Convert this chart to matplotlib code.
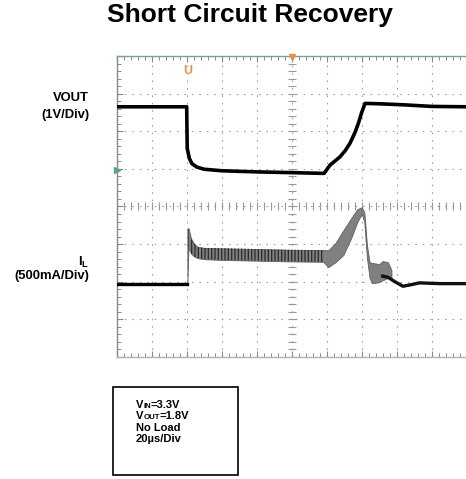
import numpy as np
import matplotlib
matplotlib.use("Agg")
import matplotlib.pyplot as plt
from matplotlib.patches import Rectangle

plt.rcParams["font.family"] = ["Liberation Sans", "DejaVu Sans"]
plt.rcParams["mathtext.fontset"] = "custom"
plt.rcParams["mathtext.rm"] = "Liberation Sans:bold"
plt.rcParams["mathtext.bf"] = "Liberation Sans:bold"
plt.rcParams["mathtext.it"] = "Liberation Sans:bold"
plt.rcParams["hatch.linewidth"] = 0.9

# ── Scope readings (time in us, level in screen divisions, 0 = centre) ────────
vout_t = [0, 40.0, 40.3, 41.5, 43.0, 45.7, 50, 60, 80, 100, 118.5,
          121.9, 124.5, 127.6, 130.5, 133.3, 136.0, 138.1, 140.0, 141.9,
          150, 165, 180, 200]
vout_y = [2.65, 2.65, 1.55, 1.28, 1.14, 1.05, 0.99, 0.95, 0.92, 0.90, 0.88,
          1.10, 1.20, 1.32, 1.48, 1.68, 1.95, 2.21, 2.50, 2.74,
          2.73, 2.70, 2.66, 2.65]

# inductor current: clean trace before the short and after recovery
il_pre_t = [0, 40.4]
il_pre_y = [-2.06, -2.06]
il_post_t = [152, 155, 159, 163.6, 168, 173, 185, 200]
il_post_y = [-1.85, -1.88, -2.00, -2.12, -2.08, -2.03, -2.05, -2.05]

# ripple envelope while switching
band_t = [40.4, 41.0, 42.5, 44.0, 46.0, 50, 60, 80, 100, 118, 121, 125,
          129.5, 134, 137.5, 140, 141.5, 143, 144.5, 146, 150, 152, 155, 157]
band_top = [-0.60, -0.57, -0.85, -0.97, -1.07, -1.10, -1.11, -1.13, -1.15,
            -1.16, -1.16, -0.97, -0.63, -0.31, -0.07, -0.02, -0.15, -1.03,
            -1.48, -1.50, -1.53, -1.45, -1.48, -1.69]
band_bot = [-2.06, -1.10, -1.25, -1.32, -1.37, -1.40, -1.42, -1.44, -1.46,
            -1.47, -1.61, -1.48, -1.29, -0.84, -0.41, -0.20, -0.41, -1.37,
            -1.90, -2.04, -2.01, -1.96, -1.90, -1.93]

# test conditions box: (symbol, subscript, rest)
notes = [("V", "IN", "=3.3V"), ("V", "OUT", "=1.8V"),
         ("No Load", "", ""), ("20µs/Div", "", "")]

fig = plt.figure(figsize=(4.66, 4.79), dpi=100)
ax = fig.add_axes([0.2504, 0.2547, 0.7511, 0.6284])
ax.set_xlim(0, 200)
ax.set_ylim(-4, 4)

# ── Graticule ─────────────────────────────────────────────────────────────────
grid_c = "#9c9c9c"
dots = (0, (1.4, 5.3))
for gx in np.arange(20, 200, 20):
    ax.axvline(gx, color=grid_c, lw=0.8, ls=dots, zorder=1)
for gy in np.arange(-3, 4, 1):
    ax.axhline(gy, color=grid_c, lw=0.8, ls=dots, zorder=1)
minor_x = np.arange(0, 201, 4)
minor_y = np.arange(-4, 4.01, 0.2)
ax.plot(minor_x, np.zeros_like(minor_x), ls="none", marker="|", ms=6,
        mew=0.8, color="#999999", zorder=1)
ax.plot(np.full_like(minor_y, 100), minor_y, ls="none", marker="_", ms=6,
        mew=0.8, color="#999999", zorder=1)

ax.set_xticks(np.arange(0, 201, 20))
ax.set_xticks(minor_x, minor=True)
ax.set_yticks(np.arange(-4, 5, 1))
ax.set_yticks(minor_y, minor=True)
ax.tick_params(which="both", direction="in", top=True, right=False,
               labelbottom=False, labelleft=False, color="#8a8a8a")
ax.tick_params(which="major", length=4, width=0.8)
ax.tick_params(which="minor", length=3, width=0.7)
ax.spines["right"].set_visible(False)
ax.spines["left"].set_color("#8a8a8a")
ax.spines["bottom"].set_color("#b0b0b0")
ax.spines["top"].set_color("#7a9e9e")
for s in ("left", "bottom", "top"):
    ax.spines[s].set_linewidth(1.0)

# ── Traces ───────────────────────────────────────────────────────────────────
ax.plot(vout_t, vout_y, color="black", lw=2.6, solid_joinstyle="round",
        zorder=4)
ax.plot(il_pre_t, il_pre_y, color="black", lw=2.4, zorder=4)
ax.plot(il_post_t, il_post_y, color="#111111", lw=2.4, zorder=4)

bt = np.array(band_t)
ax.fill_between(band_t, band_bot, band_top, color="#808080", lw=0.6,
                edgecolor="#606060", zorder=3)
ax.fill_between(band_t, band_bot, band_top, where=(bt >= 41.0) & (bt <= 118),
                facecolor="none", edgecolor="#2a2a2a", hatch="|||||", lw=0,
                zorder=3)

# scope markers
ax.text(40.5, 3.6, "U", color="#e8963c", fontsize=9, fontweight="bold",
        ha="center", va="center", zorder=5)
ax.plot([100], [3.97], marker="v", ms=5, color="#e8963c", clip_on=False,
        zorder=5)
ax.plot([0], [0.97], marker=">", ms=4, color="#5fa08a", clip_on=False,
        zorder=5)

# ── Labels ───────────────────────────────────────────────────────────────────
fig.text(0.5365, 1 - 15 / 479, "Short Circuit Recovery", ha="center",
         va="center", fontsize=19, fontweight="bold")
fig.text(89 / 466, 1 - 98 / 479, "VOUT", ha="right", va="center",
         fontsize=9.4, fontweight="bold")
fig.text(89 / 466, 1 - 115 / 479, "(1V/Div)", ha="right", va="center",
         fontsize=9.4, fontweight="bold")
fig.text(89 / 466, 1 - 262 / 479, r"I$_{\mathbf{L}}$", ha="right",
         va="center", fontsize=9.4, fontweight="bold")
fig.text(89 / 466, 1 - 276 / 479, "(500mA/Div)", ha="right", va="center",
         fontsize=9.4, fontweight="bold")

fig.patches.append(Rectangle((0.2432, 0.0084), 0.2676, 0.1843,
                             transform=fig.transFigure, fill=False,
                             edgecolor="black", lw=1.2))
for i, (sym, sub, rest) in enumerate(notes):
    t = fig.text(0.2918, 1 - (408 + 11.4 * i) / 479, sym, ha="left",
                 va="baseline", fontsize=8, fontweight="bold")
    if sub:
        s = ax.annotate(sub, xy=(1, 0), xycoords=t, xytext=(0, 0),
                        textcoords="offset points", ha="left", va="bottom",
                        fontsize=5.6, fontweight="bold",
                        annotation_clip=False)
        ax.annotate(rest, xy=(1, 0), xycoords=s, xytext=(0, 0),
                    textcoords="offset points", ha="left", va="bottom",
                    fontsize=8, fontweight="bold", annotation_clip=False)

fig.savefig("out.png", dpi=100)
